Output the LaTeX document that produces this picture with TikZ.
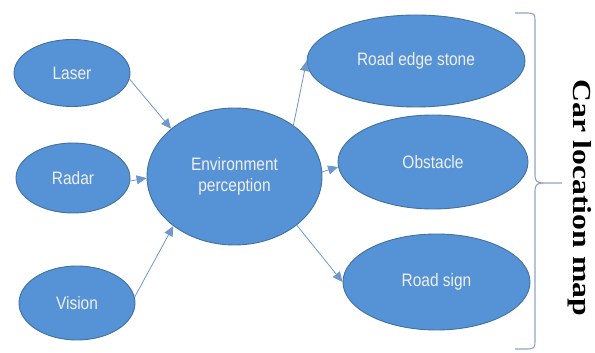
\documentclass[tikz,border=0pt]{standalone}
\usepackage{fontspec}
\setmainfont{Liberation Sans}
\newfontfamily\capfont{Liberation Serif}
\usetikzlibrary{shapes.geometric,arrows.meta}
\definecolor{ellfill}{HTML}{5592D6}
\definecolor{elledge}{HTML}{41719C}
\definecolor{arrcol}{HTML}{6E98CC}
\definecolor{bracecol}{HTML}{8FA4C0}
\tikzset{
  blob/.style={ellipse, draw=elledge, line width=0.9pt, fill=ellfill,
    inner sep=0pt, text=white!94!black, align=center,
    font=\fontsize{18}{20}\selectfont},
  link/.style={draw=arrcol, line width=0.8pt,
    -{Triangle[length=10pt,width=9pt]}},
  bracket/.style={draw=bracecol, line width=1.1pt},
}
\newcommand{\narrow}[1]{\scalebox{0.86}[1]{#1}}
\begin{document}
\begin{tikzpicture}[x=1pt,y=1pt]
  \useasboundingbox (0,0) rectangle (595,353);

  % sensor inputs
  \node[blob, minimum width=116pt, minimum height=67pt] (laser) at (72,280) {\narrow{Laser}};
  \node[blob, minimum width=114pt, minimum height=70pt] (radar) at (73,175) {\narrow{Radar}};
  \node[blob, minimum width=116pt, minimum height=74pt] (vision) at (77,50) {\narrow{Vision}};

  % central processing
  \node[blob, minimum width=175pt, minimum height=137pt] (env) at (234.5,176.5)
    {\narrow{Environment}\\[1pt]\narrow{perception}};

  % perceived objects
  \node[blob, minimum width=218pt, minimum height=92pt] (stone) at (416,292) {\narrow{Road edge stone}};
  \node[blob, minimum width=190pt, minimum height=94pt] (obst) at (433,191) {\narrow{Obstacle}};
  \node[blob, minimum width=187pt, minimum height=96pt] (sign) at (436.5,71) {\narrow{Road sign}};

  % connectors
  \draw[link] (laser.-6) -- (env.143);
  \draw[link] (radar.-3) -- (env.181);
  \draw[link] (vision.6) -- (env.-141);
  \draw[link] (env.41) -- (stone.180);
  \draw[link] (env.3) -- (obst.183);
  \draw[link] (env.-38) -- (sign.180);

  % brace grouping the outputs
  \coordinate (btop) at (515,340);
  \coordinate (bbot) at (515,4);
  \coordinate (btip) at (562,170);
  \draw[bracket] (btop) -- (528,340) .. controls (534,340) and (535,338) .. (535,333)
    -- (535,178) .. controls (535,172) and (537,170) .. (543,170) -- (btip);
  \draw[bracket] (543,170) .. controls (537,170) and (535,168) .. (535,162)
    -- (535,11) .. controls (535,6) and (534,4) .. (528,4) -- (bbot);

  % side label
  \node[rotate=-90, font=\capfont\bfseries\fontsize{26}{28}\selectfont] (maplabel) at (580,155)
    {\scalebox{1.22}[1]{Car location map}};
\end{tikzpicture}
\end{document}
